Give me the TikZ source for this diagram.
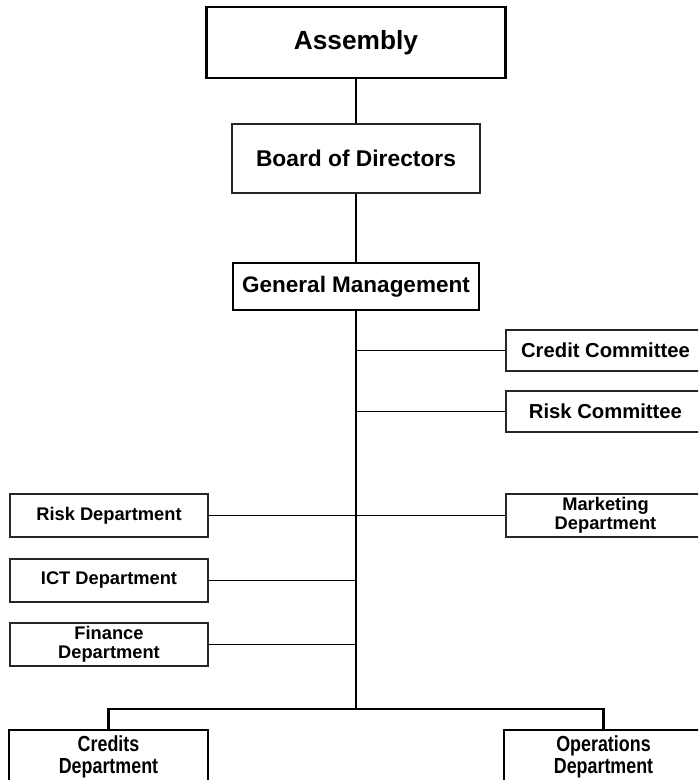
\documentclass[tikz,border=0pt]{standalone}
\usepackage{fontspec}
\setmainfont{Liberation Sans}
\newfontfamily\narrowfont[FakeStretch=0.82]{Liberation Sans}
\usetikzlibrary{positioning}
\tikzset{
  heavybox/.style={rectangle, draw, line width=2pt, fill=white, inner sep=0pt, align=center},
  lightbox/.style={rectangle, draw=black!85, line width=0.9pt, fill=white, inner sep=0pt, align=center},
  unitbox/.style={lightbox, minimum width=4.95cm, minimum height=1.075cm,
                  font=\bfseries\fontsize{13}{13.6}\selectfont},
  committee/.style={lightbox, minimum width=4.975cm, minimum height=1.025cm,
                    font=\bfseries\fontsize{14.4}{15}\selectfont},
  trunk/.style={line width=1.7pt},
  branch/.style={line width=0.8pt},
}

\begin{document}
\begin{tikzpicture}[x=0.025cm, y=-0.025cm]
  \useasboundingbox (0,0) rectangle (698,780);
  \clip (0,0) rectangle (698,780);

  \node[heavybox, minimum width=7.475cm, minimum height=1.775cm,
        font=\bfseries\fontsize{18.7}{20}\selectfont] (node1) at (356,42.5) {Assembly};
  \node[lightbox, minimum width=6.2cm, minimum height=1.725cm,
        font=\bfseries\fontsize{16.2}{18}\selectfont] (node2) [below=1.1cm of node1] {Board of Directors};
  \node[heavybox, line width=1.8pt, minimum width=6.15cm, minimum height=1.175cm,
        font=\bfseries\fontsize{16}{18}\selectfont] (node3) [below=1.7cm of node2] {General Management};

  \node[committee] (node4) at (605.5,350.5) {Credit Committee};
  \node[committee] (node5) at (605.5,411.5) {Risk Committee};

  \node[unitbox] (node6) at (109,515.5) {Risk Department};
  \node[unitbox, minimum width=4.975cm] (node7) at (605.5,515.5) {Marketing\\Department};
  \node[unitbox] (node8) at (109,580.5) {ICT Department};
  \node[unitbox] (node9) at (109,644.5) {Finance\\Department};

  \node[heavybox, line width=1.8pt, minimum width=4.975cm, minimum height=1.35cm,
        font=\narrowfont\bfseries\fontsize{15.5}{16}\selectfont] (node10) at (108.5,757) {Credits\\Department};
  \node[heavybox, line width=1.8pt, minimum width=4.975cm, minimum height=1.35cm,
        font=\narrowfont\bfseries\fontsize{15.5}{16}\selectfont] (node11) at (603.5,757) {Operations\\Department};

  \coordinate (level) at (0,709);
  \coordinate (split) at (node3.south |- level);

  \draw[trunk] (node1.south) -- (node2.north);
  \draw[trunk] (node2.south) -- (node3.north);
  \draw[trunk] (node3.south) -- (split);
  \draw[trunk] (split) -| (node10.north);
  \draw[trunk] (split) -| (node11.north);

  \draw[branch] (node4.west) -- (node4.west -| split);
  \draw[branch] (node5.west) -- (node5.west -| split);
  \draw[branch] (node6.east) -- (node7.west);
  \draw[branch] (node8.east) -- (node8.east -| split);
  \draw[branch] (node9.east) -- (node9.east -| split);
\end{tikzpicture}
\end{document}
